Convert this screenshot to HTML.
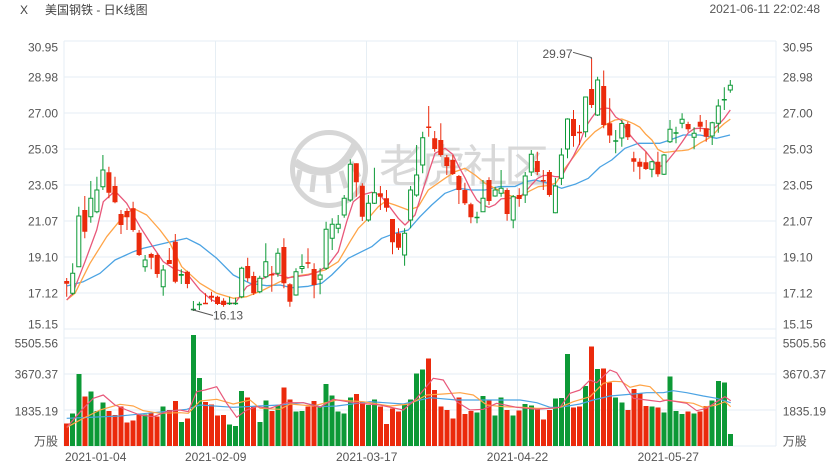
<!DOCTYPE html>
<html><head><meta charset="utf-8"><style>
html,body{margin:0;padding:0;background:#fff;}
svg{display:block;}
text{font-family:"Liberation Sans","Noto Sans CJK SC",sans-serif;}
</style></head><body>
<svg width="840" height="470" viewBox="0 0 840 470" xmlns="http://www.w3.org/2000/svg">
<rect width="840" height="470" fill="#fff"/>
<!-- header -->
<text x="20" y="14" font-size="12" fill="#444">X</text>
<text x="45" y="14" font-size="12" fill="#444">美国钢铁 - 日K线图</text>
<text x="820" y="13" font-size="12" fill="#555" text-anchor="end">2021-06-11 22:02:48</text>

<!-- grid -->
<g stroke="#e6eef4" stroke-width="1" fill="none" shape-rendering="crispEdges">
<path d="M64 41H776M64 77H776M64 113H776M64 149H776M64 185H776M64 221H776M64 257H776M64 293H776M64 329H776"/>
<path d="M64 338H776M64 374H776M64 410H776M64 446H776"/>
<path d="M64 41V446M215.7 41V446M366.7 41V446M517.5 41V446M668.3 41V446M776 41V446"/>
</g>

<!-- watermark -->
<g fill="#d6d6d6" stroke="none">
<circle cx="329" cy="169" r="36.5" fill="none" stroke="#d6d6d6" stroke-width="5"/>
<path d="M295 162 Q312 174 328 171 Q345 167 356 143" fill="none" stroke="#d6d6d6" stroke-width="8"/>
<path d="M300 170 L297 186 M314 175 L312 192 M328 175 L329 193 M341 171 L346 188 M351 162 L359 177" fill="none" stroke="#d6d6d6" stroke-width="5"/>
<text x="379" y="182" font-size="45" textLength="170" lengthAdjust="spacing" font-family="'Noto Sans CJK SC',sans-serif" fill="#d8d8d8">老虎社区</text>
</g>

<!-- axis labels -->
<g font-size="12" fill="#555">
<g text-anchor="end">
<text x="58" y="51.3">30.95</text>
<text x="58" y="81.3">28.98</text>
<text x="58" y="117.3">27.00</text>
<text x="58" y="153.3">25.03</text>
<text x="58" y="189.3">23.05</text>
<text x="58" y="225.3">21.07</text>
<text x="58" y="261.3">19.10</text>
<text x="58" y="297.3">17.12</text>
<text x="58" y="328.3">15.15</text>
<text x="58" y="347.3">5505.56</text>
<text x="58" y="378.3">3670.37</text>
<text x="58" y="415.3">1835.19</text>
<text x="58" y="445.5">万股</text>
</g>
<g>
<text x="782.7" y="51.3">30.95</text>
<text x="782.7" y="81.3">28.98</text>
<text x="782.7" y="117.3">27.00</text>
<text x="782.7" y="153.3">25.03</text>
<text x="782.7" y="189.3">23.05</text>
<text x="782.7" y="225.3">21.07</text>
<text x="782.7" y="261.3">19.10</text>
<text x="782.7" y="297.3">17.12</text>
<text x="782.7" y="328.3">15.15</text>
<text x="782.7" y="347.3">5505.56</text>
<text x="782.7" y="378.3">3670.37</text>
<text x="782.7" y="415.3">1835.19</text>
<text x="782.7" y="445.5">万股</text>
</g>
<text x="65" y="461">2021-01-04</text>
<text x="215.7" y="461" text-anchor="middle">2021-02-09</text>
<text x="366.7" y="461" text-anchor="middle">2021-03-17</text>
<text x="517.5" y="461" text-anchor="middle">2021-04-22</text>
<text x="668.3" y="461" text-anchor="middle">2021-05-27</text>
</g>

<!-- volume bars -->
<path fill="#eb2a0c" shape-rendering="crispEdges" d="M64.2 423.3h5V446h-5zM82.3 396.7h5V446h-5zM106.4 411h5V446h-5zM112.5 415h5V446h-5zM118.5 406.7h5V446h-5zM124.5 422.3h5V446h-5zM130.6 420.7h5V446h-5zM136.6 413.3h5V446h-5zM148.7 412.3h5V446h-5zM154.7 416.7h5V446h-5zM166.8 410h5V446h-5zM172.8 401h5V446h-5zM184.9 418.7h5V446h-5zM203 402h5V446h-5zM209 404.3h5V446h-5zM215 415.7h5V446h-5zM221.1 415h5V446h-5zM245.2 397.7h5V446h-5zM251.2 406.7h5V446h-5zM269.3 411h5V446h-5zM281.4 387.3h5V446h-5zM287.4 399.3h5V446h-5zM305.5 406.7h5V446h-5zM311.6 401h5V446h-5zM353.8 394h5V446h-5zM359.8 401.7h5V446h-5zM377.9 406.7h5V446h-5zM384 424h5V446h-5zM390 408.3h5V446h-5zM396 411.7h5V446h-5zM426.2 358.3h5V446h-5zM432.2 390h5V446h-5zM438.3 406.7h5V446h-5zM444.3 410h5V446h-5zM450.3 418.3h5V446h-5zM456.4 397.3h5V446h-5zM462.4 414h5V446h-5zM468.4 411h5V446h-5zM486.5 400.7h5V446h-5zM504.6 410h5V446h-5zM516.7 410.7h5V446h-5zM534.8 408.3h5V446h-5zM540.8 419.3h5V446h-5zM546.9 410h5V446h-5zM571 407.3h5V446h-5zM577 406.7h5V446h-5zM589.1 346.7h5V446h-5zM601.2 368.3h5V446h-5zM607.2 382.7h5V446h-5zM625.3 410h5V446h-5zM631.3 389h5V446h-5zM637.3 393.3h5V446h-5zM643.4 406h5V446h-5zM655.4 407.3h5V446h-5zM685.6 411.7h5V446h-5zM697.7 411.7h5V446h-5zM703.7 406h5V446h-5z"/>
<path fill="#0c9936" shape-rendering="crispEdges" d="M70.2 413.3h5V446h-5zM76.3 374h5V446h-5zM88.3 391.7h5V446h-5zM94.4 411h5V446h-5zM100.4 402.3h5V446h-5zM142.6 414.3h5V446h-5zM160.7 406.7h5V446h-5zM178.8 422h5V446h-5zM190.9 335h5V446h-5zM196.9 378h5V446h-5zM227.1 424.7h5V446h-5zM233.1 426h5V446h-5zM239.2 391h5V446h-5zM257.3 422h5V446h-5zM263.3 400.7h5V446h-5zM275.4 405.3h5V446h-5zM293.5 411.7h5V446h-5zM299.5 411h5V446h-5zM317.6 406.7h5V446h-5zM323.6 384h5V446h-5zM329.7 395.3h5V446h-5zM335.7 411.7h5V446h-5zM341.7 413.7h5V446h-5zM347.8 397.3h5V446h-5zM365.9 405h5V446h-5zM371.9 399.3h5V446h-5zM402.1 403.3h5V446h-5zM408.1 399.3h5V446h-5zM414.1 373.3h5V446h-5zM420.2 369.3h5V446h-5zM474.5 412.7h5V446h-5zM480.5 396h5V446h-5zM492.6 415.7h5V446h-5zM498.6 397.3h5V446h-5zM510.7 415.7h5V446h-5zM522.7 404h5V446h-5zM528.8 405.3h5V446h-5zM552.9 398.3h5V446h-5zM558.9 398h5V446h-5zM565 354h5V446h-5zM583.1 386h5V446h-5zM595.1 369h5V446h-5zM613.2 397.7h5V446h-5zM619.3 402.7h5V446h-5zM649.4 406.7h5V446h-5zM661.5 412.7h5V446h-5zM667.5 376.7h5V446h-5zM673.5 411h5V446h-5zM679.6 414h5V446h-5zM691.6 413.3h5V446h-5zM709.7 400.7h5V446h-5zM715.8 381h5V446h-5zM721.8 382.7h5V446h-5zM727.8 434h5V446h-5z"/>

<!-- volume MAs -->
<g fill="none" stroke-width="1.2" stroke-linejoin="round">
<polyline stroke="#4ba3e3" points="66.7,418.3 120,416 186.7,409.3 200,405 233.3,407.3 280,405 303.3,402.7 320,406.7 336.7,406 370,401.7 403.3,404 430,397.7 456.7,400 486.7,400 520,400 536.7,402.7 550,407.3 560,407.3 580,404 593.3,400 610,396 633.3,394 646.7,392.7 663.3,392.7 673.3,390.7 686.7,392.7 703.3,396 716.7,398.3 730.7,402.7"/>
<polyline stroke="#ffa447" points="66.7,427.3 83.3,418.3 100,410 120,404.3 133.3,406 143.3,410.7 160,413.3 180,412.7 188.3,413.3 200,401 216.7,399.3 233.3,404 250,400 260,408.3 280,409.3 290,404 313.3,406 336.7,400 363.3,401.7 390,406 410,404 426.7,395 443.3,394 460,392.7 473.3,395 486.7,405 503.3,406.7 523.3,407.3 536.7,408.3 553.3,408.3 560,407.3 573.3,401.7 590,396.7 603.3,383.3 613.3,381.3 621.7,381.7 630,387.3 640,385 650,386.7 663.3,400 680,401.7 693.3,403.3 703.3,407.3 716.7,405 725,401.7 730.7,406.7"/>
<polyline stroke="#e8587a" points="66.7,427.3 83.3,408.3 93.3,398.3 103.3,395 115,405 126.7,410 140,415 153.3,416.7 166.7,411.7 180,410 188.3,411.7 196.7,391.7 205,390 216.7,386.7 226.7,403.3 236.7,417.3 246.7,410 256.7,406.7 270,408.3 286.7,402.7 303.3,402.7 320,407.3 333.3,399.3 353.3,402.7 380,405 403.3,410 416.7,398.3 433.3,378.3 443.3,380 456.7,401.7 470,410 483.3,409.3 496.7,403.3 516.7,407.3 536.7,409.3 550,408.3 560,407.3 570,393.3 580,390 590,380 596.7,382.7 610,370 616.7,372.7 626.7,388.3 633.3,398.3 646.7,400 660,401.7 666.7,400 686.7,403.3 696.7,410.7 706.7,408.3 716.7,401.7 725,396.7 730.7,400.7"/>
</g>

<!-- price MAs -->
<g fill="none" stroke-width="1.3" stroke-linejoin="round">
<polyline stroke="#4ba3e3" points="66.7,286 83.3,281.7 100,273.3 115,260 133.3,251.7 143.3,248.3 166.7,242.7 186.7,238.3 200,245 216.7,258.3 233.3,275 250,283.3 266.7,285.7 280,285 291.7,287.7 308.3,286.3 321.7,283.3 331.7,275 348.3,258.3 358.3,253.3 371.7,246.7 381.7,238.3 395,233.3 408.3,230 420,216.7 431.7,205 445,193.3 458.3,188.3 471.7,190 485,190 498.3,186.7 515,186.5 525,181.7 535,180 548.3,183.3 561.7,188.3 575,184.3 588.3,178.3 600,167 611.7,160 625,148.3 638.3,143.3 660,143.3 670,140 683.3,135 700,135 716.7,138.3 730,135"/>
<polyline stroke="#ffa447" points="66.7,300 75,293.3 90,263.3 106.7,236.7 121.7,218.3 133.3,208.3 146.7,215 160,230 170,243.3 181.7,266.7 200,283.3 216.7,293.3 233.3,298.3 246.7,296.7 263.3,290 280,281.7 291.7,276.7 308.3,274.3 325,270 338.3,261.7 350,241.7 358.3,228.3 368.3,218.3 378.3,206.7 385,201.7 395,205 408.3,210 418.3,206.7 428.3,190 445,178.3 455,171.7 465,168.3 475,175 485,183.3 498.3,190 508.3,195 518.3,198.3 528.3,191.7 538.3,186.7 548.3,185.5 556,183 565,168.3 575,155 585,141.7 595,131.7 605,125 615,120 621.7,119 627.8,121.2 633.8,123.8 639.8,127.2 645.9,134.4 651.9,140 657.9,149.5 664,152.5 670,151.9 676,151 682.1,150.6 688.1,149.9 694.1,147 700.2,143 706.2,139.8 712.2,135.9 718.3,129 724.3,123.5 730.3,119.1"/>
<polyline stroke="#e8587a" points="66.7,300 72.7,293.3 85,261.7 96.7,230 103.3,201.7 115,191 126.7,203.3 140,226.7 151.7,245 163.3,261.7 173.3,268.3 186.7,273.3 200,290 211.7,300 220,303.3 235,303.3 246.7,286.7 260,280 273.3,273.3 288.3,277.7 308.3,275 318.3,271.7 328.3,265 338.3,251.7 346.7,221.7 353.3,201.7 361.7,195 371.7,192.3 380,195 388.3,205 398.3,218.3 405,225 415,215 425,183.3 435,153.3 445,148.3 452.8,154.4 458.9,166.8 464.9,177.7 470.9,190.1 477,200.3 483,205.1 489,207.3 495.1,204.7 501.1,198.9 507.1,198.3 513.2,198 519.2,197.6 525.2,192 531.3,185 537.3,178.6 543.3,175.6 549.4,175.2 555.4,176.7 561.4,176.8 567.5,166 573.5,156 579.5,143.7 585.6,127 591.6,118 597.6,110 603.7,107.9 609.7,108.5 615.7,117 621.8,120.8 627.8,132.3 633.8,139.6 639.8,145.9 645.9,151.6 651.9,159.3 657.9,166.7 664,165.3 670,157.9 676,150.5 682.1,142 688.1,133 694.1,128.7 700.2,128.2 706.2,129 712.2,129.7 718.3,125 724.3,118.3 730.3,110"/>
</g>

<!-- wicks -->
<path stroke="#eb2a0c" stroke-width="1" fill="none" d="M66.7 278V296.7M84.8 196V238.3M108.9 166.7V198.3M115 176.7V203.3M121 210V234M127 208.3V230M133.1 201.7V231.7M139.1 230V256M151.2 252.7V269.3M157.2 253.3V277.7M169.3 248V264M175.3 234V283.3M187.4 270.7V288.3M205.5 293.3V303.7M211.5 291.7V301.7M217.5 295.7V305M223.6 298.3V306.7M247.7 257.7V281.7M253.7 271.7V295M271.8 266V291.7M283.9 238.3V288.3M289.9 283.3V306.7M308 248.3V268.3M314.1 263.3V298.3M356.3 163.3V196.7M362.3 183.3V221M380.4 186V210M386.5 190V211.7M392.5 219V254.3M398.5 228.3V250M428.7 106V136.7M434.7 131V151.7M440.8 123.3V156.7M446.8 155V175M452.8 155V175M458.9 175V204M464.9 182.7V205M470.9 202.7V223.3M489 177.3V205M507.1 188.3V220.7M519.2 188.3V206.7M537.3 151.7V175M543.3 170V190M549.4 170V196.7M573.5 110V146.7M579.5 125V145M591.6 58.3V108M603.7 70.5V128.3M609.7 98.3V143M627.8 121.7V140M633.8 151.7V171.7M639.8 158.3V179.3M645.9 151.7V170M657.9 151.7V176.7M688.1 121.7V131.7M700.2 115V131.7M706.2 120V141.7"/>
<path stroke="#0c9936" stroke-width="1" fill="none" d="M72.7 263.3V295M78.8 206.7V266.7M90.8 181V222.7M96.9 176.7V213.3M102.9 155V190M145.1 255V271.7M163.2 265V295.7M181.3 269.3V284M193.4 301V311M199.4 301.7V310M229.6 296.7V305M235.6 297.7V305M241.7 266.7V298.3M259.8 275.7V293.3M265.8 243.3V278.3M277.9 248.3V276.7M296 268.3V295.7M302 254.3V273.3M320.1 268.3V294.3M326.1 221.7V270M332.2 218.3V250M338.2 215V233.3M344.2 195V217.7M350.3 159.3V201.7M368.4 195V221.7M374.4 167.7V204M404.6 228.3V265.7M410.6 186V228.3M416.6 145V196.7M422.7 131.7V173.3M477 211.7V223.3M483 180V211.7M495.1 186.7V196.7M501.1 170V196.7M513.2 195V228.3M525.2 172V203M531.3 150V176M555.4 178V213.3M561.4 148.3V185M567.5 118.3V158.3M585.6 96.7V137.3M597.6 76.7V116M615.7 130V153.3M621.8 120V146.7M651.9 160.7V177.3M664 154V175M670 120V143M676 126.7V143.3M682.1 113.3V128.3M694.1 127.3V149.3M712.2 121.7V145M718.3 99.3V132.7M724.3 87.3V110M730.3 80V92.7"/>

<!-- red bodies -->
<path fill="#eb2a0c" d="M64.2 281h5v2.7h-5zM82.3 210h5v21.7h-5zM106.4 172.3h5v20.4h-5zM112.5 186h5v16.3h-5zM118.5 214h5v11h-5zM124.5 211h5v6.3h-5zM130.6 208.3h5v21.7h-5zM136.6 232.7h5v22.3h-5zM148.7 254h5v3.7h-5zM154.7 255h5v19h-5zM166.8 260h5v4h-5zM172.8 241.7h5v40h-5zM184.9 271.7h5v12.3h-5zM203 302.7h5v1.5h-5zM209 295.7h5v2h-5zM215 296.7h5v7.3h-5zM221.1 300.7h5v4.3h-5zM245.2 266h5v12.3h-5zM251.2 276h5v17.3h-5zM269.3 274h5v1.5h-5zM281.4 247h5v36.3h-5zM287.4 284.3h5v17.4h-5zM305.5 262.3h5v1.5h-5zM311.6 269h5v16h-5zM353.8 163.3h5v19h-5zM359.8 185.7h5v31h-5zM377.9 193.3h5v3.4h-5zM384 198.3h5v9.4h-5zM390 219h5v23.3h-5zM396 233.3h5v14.4h-5zM426.2 126.5h5v1.5h-5zM432.2 138.3h5v10.7h-5zM438.3 140h5v15h-5zM444.3 157.3h5v8.7h-5zM450.3 160h5v14h-5zM456.4 176h5v14h-5zM462.4 190h5v13.3h-5zM468.4 204.3h5v13h-5zM486.5 180h5v21h-5zM504.6 190h5v24h-5zM516.7 195h5v4h-5zM534.8 161h5v11h-5zM540.8 180h5v1.5h-5zM546.9 172h5v23h-5zM571 119h5v17h-5zM577 131.7h5v1.5h-5zM589.1 89h5v16h-5zM601.2 86h5v39h-5zM607.2 123.3h5v12.2h-5zM625.3 124h5v13.2h-5zM631.3 158.3h5v3.4h-5zM637.3 161.7h5v5h-5zM643.4 162.3h5v6.7h-5zM655.4 161.7h5v12.6h-5zM685.6 124h5v5.3h-5zM697.7 121.7h5v5h-5zM703.7 128.3h5v8.4h-5z"/>

<!-- green hollow bodies -->
<path fill="#fff" stroke="#0c9936" stroke-width="1" d="M70.7 273.3h4v20h-4zM76.8 216h4v50.7h-4zM88.8 198.3h4v18.4h-4zM94.9 190h4v21.7h-4zM100.9 170h4v16.7h-4zM143.1 260h4v6.7h-4zM161.2 270h4v16.7h-4zM239.7 268.3h4v28.4h-4zM257.8 278.3h4v13.4h-4zM263.8 261.7h4v15h-4zM275.9 253.3h4v20h-4zM294 271.7h4v23.3h-4zM300 266.5h4v2h-4zM318.1 275h4v4.3h-4zM324.1 229.3h4v39h-4zM330.2 224.3h4v14h-4zM336.2 224.3h4v4h-4zM342.2 198.3h4v16.7h-4zM348.3 164.3h4v35.7h-4zM366.4 203.3h4v16.7h-4zM372.4 192.7h4v10.6h-4zM402.6 233.3h4v21.7h-4zM408.6 190h4v30h-4zM414.6 175h4v20h-4zM420.7 137.7h4v27.3h-4zM481 198.3h4v13.4h-4zM493.1 190h4v6h-4zM499.1 188.3h4v5h-4zM511.2 196.7h4v23.3h-4zM523.2 176h4v19h-4zM529.3 154.3h4v17.7h-4zM553.4 186h4v26.7h-4zM559.4 155h4v23.3h-4zM565.5 119h4v30h-4zM583.6 97h4v34.7h-4zM595.6 80h4v35h-4zM619.8 123.5h4v14.5h-4zM649.9 161.7h4v7.6h-4zM662 155h4v19.3h-4zM668 129.3h4v12.4h-4zM680.1 119.3h4v4h-4zM692.1 133.3h4v4h-4zM710.2 122.7h4v13.3h-4zM716.3 106h4v17.3h-4zM728.3 85.3h4v4.7h-4z"/>
<!-- green doji -->
<path fill="#0c9936" d="M178.8 274h5v1.7h-5zM190.9 308.7h5v1.5h-5zM196.9 303.7h5v1.5h-5zM227.1 302.8h5v1.5h-5zM233.1 302.8h5v1.5h-5zM474.5 216.7h5v1.5h-5zM613.2 140.2h5v1.5h-5zM673.5 132.2h5v1.5h-5zM721.8 99h5v1.5h-5z"/>

<!-- annotations -->
<path d="M191.5 309.5L213 315.5" stroke="#555" stroke-width="1" fill="none"/>
<text x="213" y="319.6" font-size="12" fill="#555">16.13</text>
<path d="M573 52.3L591.3 57.5V59" stroke="#555" stroke-width="1" fill="none"/>
<text x="542.5" y="58" font-size="12" fill="#555">29.97</text>
</svg>
</body></html>
